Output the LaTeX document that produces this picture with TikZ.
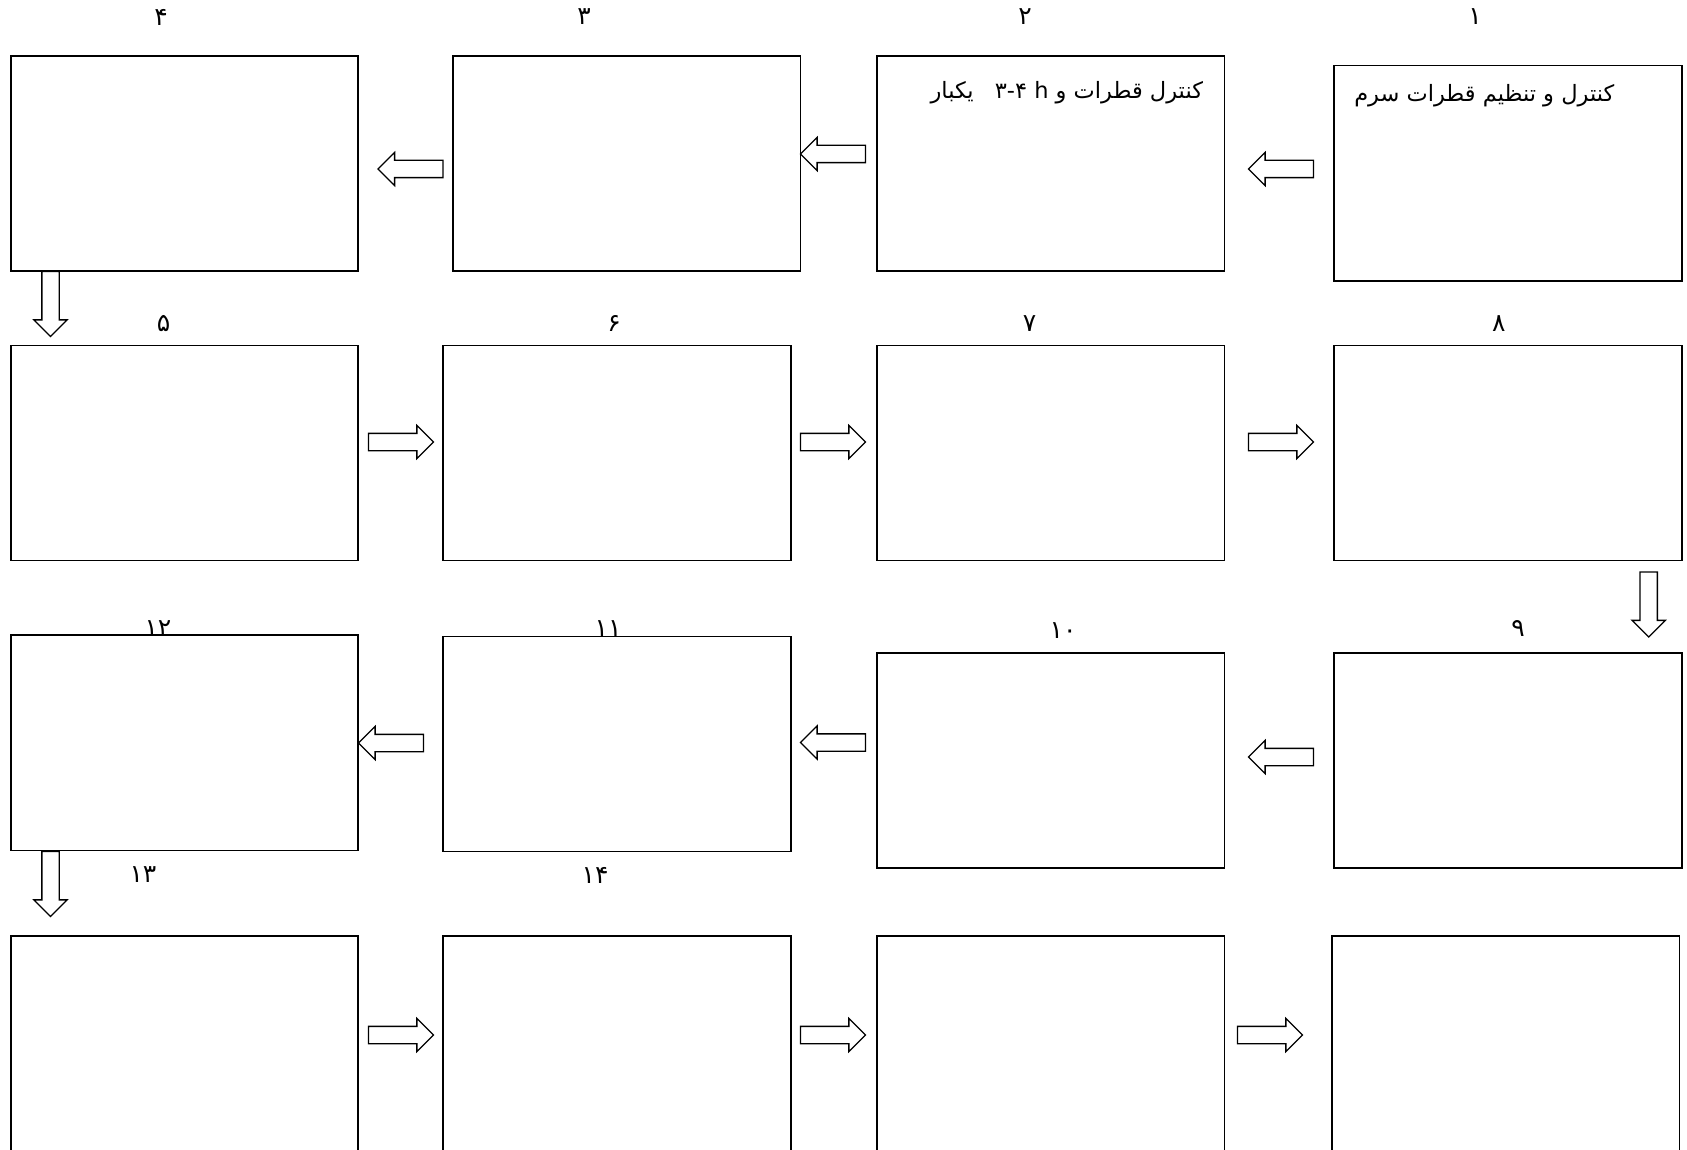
\documentclass[tikz,border=0pt]{standalone}
\usepackage{fontspec}
\usepackage{tikz}
\usetikzlibrary{shapes.arrows,positioning}
\TeXXeTstate=1
\newfontfamily\arabicfont[Script=Arabic]{DejaVu Sans}
\definecolor{stageink}{RGB}{0,0,0}
\tikzset{
  stagebox/.style={draw=stageink, line width=1.7pt, fill=white,
    rectangle, minimum width=347.5pt, minimum height=215.2pt, inner sep=0pt},
  stagearrow/.style={draw=stageink, line width=1.3pt, fill=white,
    single arrow, single arrow head extend=8pt, single arrow tip angle=90,
    single arrow head indent=0pt, inner xsep=0pt, inner ysep=8pt,
    minimum height=65pt},
  stagenum/.style={font=\arabicfont\fontsize{25}{27}\selectfont, inner sep=0pt},
  stagetext/.style={font=\arabicfont\fontsize{22.5}{26}\selectfont, inner sep=0pt,
    anchor=north east},
}

\begin{document}
\begin{tikzpicture}[x=1pt, y=-1pt]
  \useasboundingbox (0,0) rectangle (1687,1150);
  \clip (0,0) rectangle (1687,1150);
  \node[stagenum] (num4) at (161,17) {۴};
  \node[stagenum] (num3) at (584,17) {۳};
  \node[stagenum] (num2) at (1025,17) {۲};
  \node[stagenum] (num1) at (1475,17) {۱};
  \node[stagenum] (num5) at (163.5,324) {۵};
  \node[stagenum] (num6) at (614,323) {۶};
  \node[stagenum] (num7) at (1029.6,324) {۷};
  \node[stagenum] (num8) at (1498.7,324) {۸};
  \node[stagenum] (num12) at (158,629) {۱۲};
  \node[stagenum] (num11) at (608,629) {۱۱};
  \node[stagenum] (num10) at (1063,631) {۱۰};
  \node[stagenum] (num9) at (1518,629) {۹};
  \node[stagenum] (num13) at (143,875) {۱۳};
  \node[stagenum] (num14) at (595,875) {۱۴};

  \node[stagebox] (box4) at (184.5,163.5) {};
  \node[stagebox] (box3) at (626.8,163.5) {};
  \node[stagebox] (box2) at (1050.6,163.5) {};
  \node[stagebox] (box1) at (1507.9,173.2) {};
  \node[stagebox] (box5) at (184.5,453) {};
  \node[stagebox] (box6) at (617,453) {};
  \node[stagebox] (box7) at (1050.6,453) {};
  \node[stagebox] (box8) at (1507.9,453) {};
  \node[stagebox] (box12) at (184.5,742.9) {};
  \node[stagebox] (box11) at (617,744) {};
  \node[stagebox] (box10) at (1050.6,760.7) {};
  \node[stagebox] (box9) at (1507.9,760.7) {};
  \node[stagebox] (box13) at (184.5,1043.6) {};
  \node[stagebox] (box14) at (617,1043.6) {};
  \node[stagebox] (box15) at (1050.6,1043.6) {};
  \node[stagebox] (box16) at (1505.8,1043.6) {};

  \node[stagetext] (txt1) at ([xshift=-68pt,yshift=-19pt]box1.north east)
    {\beginR کنترل و تنظیم قطرات سرم\endR};
  \node[stagetext] (txt2) at ([xshift=-22pt,yshift=-26pt]box2.north east)
    {\beginR کنترل قطرات و \beginL۳-۴ h\endL{}\hspace{14pt} یکبار\endR};

  \node[stagearrow, rotate=180] (arr34) at (414.8,169) {};
  \node[stagearrow, rotate=180] (arr23) at (837.3,154) {};
  \node[stagearrow, rotate=180] (arr12) at (1285.3,169) {};
  \node[stagearrow, rotate=-90] (arr45) at (50.5,299.7) {};
  \node[stagearrow] (arr56) at (396.7,442) {};
  \node[stagearrow] (arr67) at (828.7,442) {};
  \node[stagearrow] (arr78) at (1276.7,442) {};
  \node[stagearrow, rotate=-90] (arr89) at (1648.7,600.2) {};
  \node[stagearrow, rotate=180] (arr910) at (1285.3,757) {};
  \node[stagearrow, rotate=180] (arr1011) at (837.3,742.5) {};
  \node[stagearrow, rotate=180] (arr1112) at (395.3,743) {};
  \node[stagearrow, rotate=-90] (arr1213) at (50.5,879.7) {};
  \node[stagearrow] (arr1314) at (396.7,1035) {};
  \node[stagearrow] (arr1415) at (828.7,1035) {};
  \node[stagearrow] (arr1516) at (1265.7,1035) {};
\end{tikzpicture}
\end{document}
